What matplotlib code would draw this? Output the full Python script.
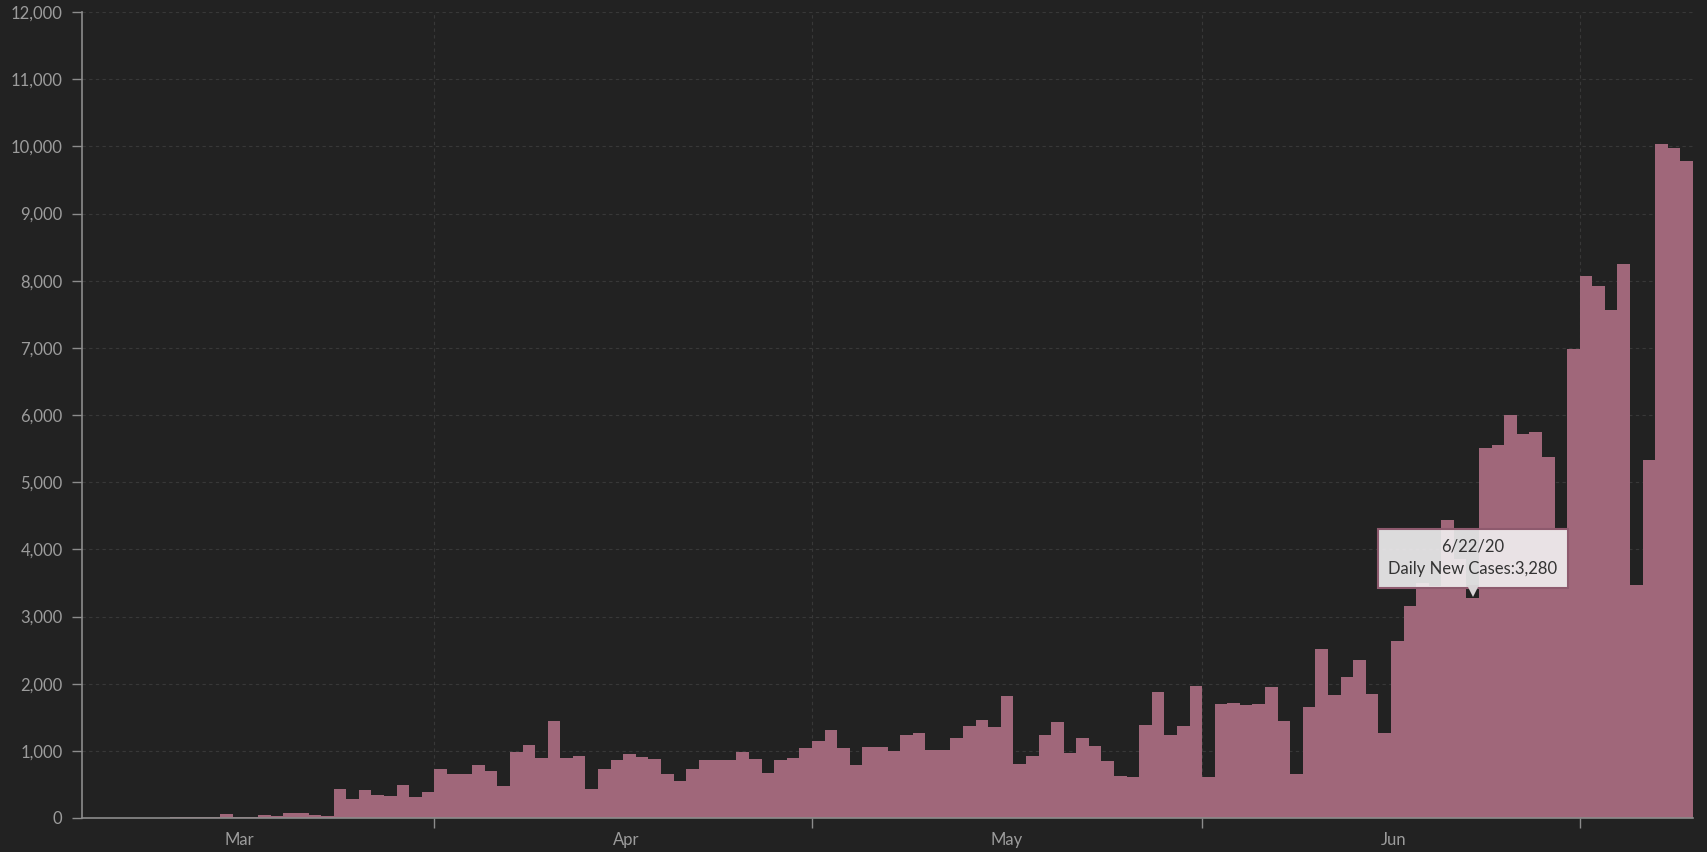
import pandas as pd
import matplotlib
matplotlib.use('Agg')
import matplotlib.pyplot as plt
import matplotlib.transforms as mtransforms
from matplotlib.ticker import FuncFormatter, MultipleLocator

# Daily new cases, one value per day starting on the first date
start_date = '2020-03-04'
daily_new_cases = [
    1, 0, 2, 3, 2, 5, 7, 10, 8, 12, 15, 60, 10, 12, 40, 30, 75, 75, 40, 28,
    437, 278, 412, 337, 322, 496, 317, 390,
    724, 660, 660, 794, 694, 481, 977, 1091, 888, 1438, 888, 928, 436, 734,
    868, 957, 913, 883, 660, 551, 734, 868, 868, 868, 982, 873, 670, 868, 898, 1037,
    1146, 1304, 1037, 789, 1056, 1056, 997, 1230, 1260, 1017, 1017, 1185, 1374,
    1463, 1354, 1810, 803, 928, 1235, 1424, 967, 1190, 1076, 853, 620, 610, 1379,
    1875, 1240, 1364, 1969,
    610, 1691, 1711, 1681, 1696, 1949, 1443, 660, 1647, 2515, 1835, 2098, 2356,
    1850, 1265, 2629, 3150, 3500, 3450, 4439, 3850, 3280, 5506, 5555, 6002, 5714,
    5754, 5372, 4300, 6990,
    8070, 7921, 7560, 8254, 3472, 5332, 10030, 9980, 9777,
]
dates = pd.date_range(start_date, periods=len(daily_new_cases), freq='D')

month_starts = pd.to_datetime(['2020-04-01', '2020-05-01', '2020-06-01', '2020-07-01'])
month_labels = ['Mar', 'Apr', 'May', 'Jun']
month_label_dates = pd.to_datetime(['2020-03-16 12:00', '2020-04-16 06:00',
                                    '2020-05-16 12:00', '2020-06-16 06:00'])

tooltip_date = pd.Timestamp('2020-06-22')

bg = '#222222'
bar_color = '#a0677a'
axis_color = '#8c8c8c'
label_color = '#9c9c9c'
grid_color = '#383838'

plt.rcParams['font.family'] = ['Lato', 'DejaVu Sans']

fig = plt.figure(figsize=(17.08, 8.52), dpi=100, facecolor=bg)
ax = fig.add_axes([82 / 1708, 34 / 852, 1611 / 1708, 806 / 852], facecolor=bg)

ax.bar(dates, daily_new_cases, width=1.0, align='edge', color=bar_color,
       linewidth=0, zorder=2)

ax.set_xlim(dates[0], dates[-1] + pd.Timedelta(days=1))
ax.set_ylim(0, 12000)

# y axis
ax.yaxis.set_major_locator(MultipleLocator(1000))
ax.yaxis.set_major_formatter(FuncFormatter(lambda v, p: f'{v:,.0f}'))
ax.tick_params(axis='y', length=7, width=1, color=axis_color,
               labelcolor=label_color, labelsize=12, pad=7)

# x axis: ticks at month starts, labels in the middle of each month
ax.set_xticks(month_starts)
ax.set_xticklabels([])
ax.set_xticks(month_label_dates, minor=True)
ax.set_xticklabels(month_labels, minor=True)
ax.tick_params(axis='x', which='major', length=7, width=1, color=axis_color)
ax.tick_params(axis='x', which='minor', length=0, labelcolor=label_color,
               labelsize=12, pad=10)

ax.grid(True, which='major', linestyle=(0, (3, 3)), color=grid_color, linewidth=0.8)
ax.set_axisbelow(True)

for side in ['top', 'right']:
    ax.spines[side].set_visible(False)
for side in ['left', 'bottom']:
    ax.spines[side].set_color(axis_color)
    ax.spines[side].set_linewidth(1.2)

# hover tooltip for 6/22/20
idx = list(dates).index(tooltip_date)
value = daily_new_cases[idx]
tip_x = tooltip_date + pd.Timedelta(hours=12)
ax.annotate(f'{tooltip_date.month}/{tooltip_date.day}/{tooltip_date:%y}\nDaily New Cases:{value:,}',
            xy=(tip_x, value), xytext=(0, 28.5), textcoords='offset points',
            ha='center', va='center', fontsize=12, color='#333333',
            linespacing=1.5, zorder=5,
            bbox=dict(boxstyle='square,pad=0.62', fc=(0.95, 0.94, 0.95, 0.9),
                      ec='#8e5a6e', lw=1.5))
pointer_tr = mtransforms.offset_copy(ax.transData, fig=fig, x=0, y=5, units='points')
ax.plot([tip_x], [value], marker='v', markersize=9, color='#d8d4d6',
        markeredgewidth=0, transform=pointer_tr, zorder=6)

fig.savefig('out.png', dpi=100, facecolor=bg)
